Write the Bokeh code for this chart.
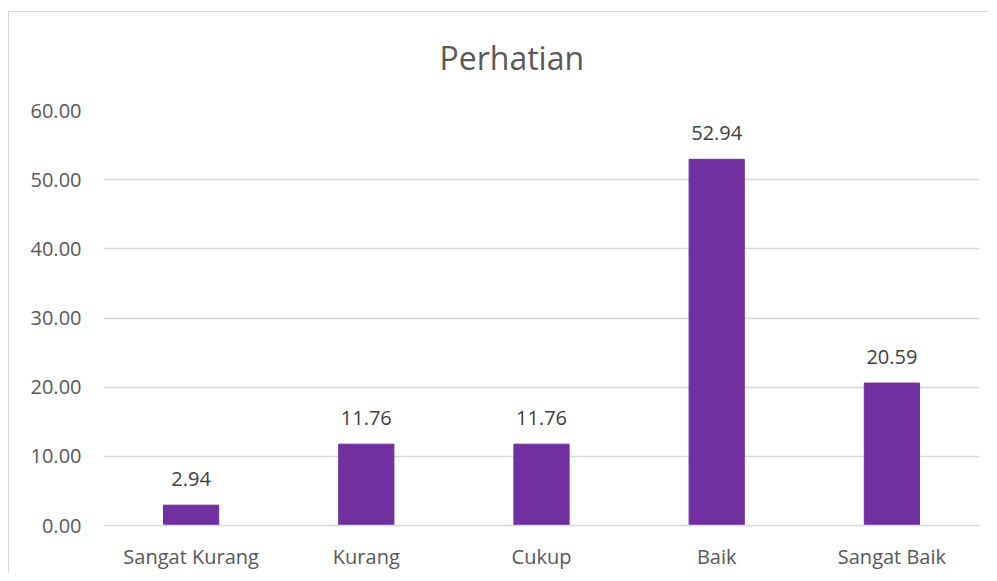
from bokeh.plotting import figure
from bokeh.models import ColumnDataSource, FixedTicker, NumeralTickFormatter
from bokeh.core.properties import value
from bokeh.embed import file_html
from bokeh.resources import INLINE

title_text = "Perhatian"
categories = ["Sangat Kurang", "Kurang", "Cukup", "Baik", "Sangat Baik"]
values = [2.94, 11.76, 11.76, 52.94, 20.59]
y_ticks = [0, 10, 20, 30, 40, 50, 60]

labels = [f"{v:.2f}" for v in values]
src = ColumnDataSource(dict(cat=categories, val=values, lab=labels))

FONT = "Open Sans"
TXT = "#595959"
EDGE = "linear-gradient(#d9d9d9,#d9d9d9)"

p = figure(
    x_range=categories, y_range=(0, 60),
    width=981, height=573,
    output_backend="svg", toolbar_location=None,
    min_border_left=95, min_border_right=10, min_border_top=110, min_border_bottom=48,
    styles={"margin-left": "8px",
            "background": f"{EDGE} 0 11px / 100% 1px no-repeat, "
                          f"{EDGE} 0 11px / 1px 100% no-repeat, #ffffff"},
)
p.border_fill_color = None
p.outline_line_color = None

p.title.text = title_text
p.title.align = "left"
p.title.offset = 336
p.title.standoff = 63
p.title.text_font = FONT
p.title.text_font_size = "32px"
p.title.text_font_style = "normal"
p.title.text_color = TXT

p.vbar(x="cat", top="val", width=0.315, source=src, color="#7030A0")
p.text(x="cat", y="val", text="lab", source=src, text_align="center",
       text_baseline="bottom", y_offset=-19, text_font=value(FONT),
       text_font_size="20px", text_color="#404040")

p.yaxis.ticker = FixedTicker(ticks=y_ticks)
p.yaxis.formatter = NumeralTickFormatter(format="0.00")
p.yaxis.axis_line_color = None
p.yaxis.major_tick_line_color = None
p.yaxis.minor_tick_line_color = None
p.yaxis.major_label_standoff = 16
p.xaxis.axis_line_color = "#d9d9d9"
p.xaxis.axis_line_width = 1.5
p.xaxis.major_tick_line_color = None
p.xaxis.major_label_standoff = 11
for ax in (p.xaxis, p.yaxis):
    ax.major_label_text_font = FONT
    ax.major_label_text_font_size = "20px"
    ax.major_label_text_color = TXT

p.xgrid.grid_line_color = None
p.ygrid.grid_line_color = "#d9d9d9"
p.ygrid.grid_line_width = 1.5

open("out.html", "w").write(file_html(p, INLINE))
